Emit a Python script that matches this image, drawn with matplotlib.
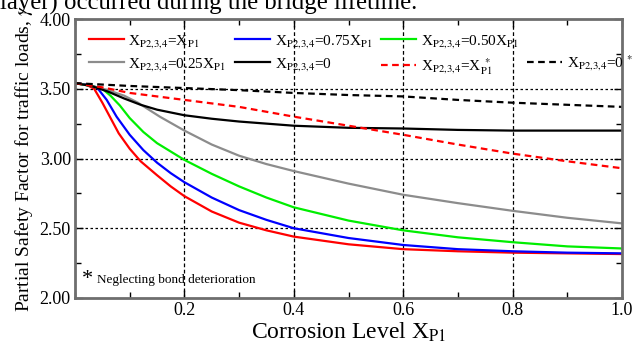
import matplotlib
matplotlib.use("Agg")
import matplotlib.pyplot as plt
from matplotlib.lines import Line2D
from matplotlib.ticker import MultipleLocator, FormatStrFormatter

plt.rcParams["font.family"] = ["Liberation Serif", "DejaVu Serif"]
plt.rcParams["mathtext.fontset"] = "stix"

# corrosion level X_P1 and partial safety factor per series
x_red = [0.0, 0.02, 0.035, 0.05, 0.065, 0.08, 0.1, 0.12, 0.15, 0.175, 0.2, 0.25, 0.3, 0.35, 0.4, 0.5, 0.6, 0.7, 0.8, 0.9, 1.0]
y_red = [3.54, 3.53, 3.50, 3.40, 3.29, 3.18, 3.07, 2.98, 2.88, 2.80, 2.73, 2.62, 2.54, 2.485, 2.44, 2.385, 2.35, 2.335, 2.325, 2.32, 2.315]

x_blue = [0.0, 0.02, 0.04, 0.058, 0.076, 0.1, 0.125, 0.15, 0.175, 0.2, 0.25, 0.3, 0.35, 0.4, 0.5, 0.6, 0.7, 0.8, 0.9, 1.0]
y_blue = [3.54, 3.53, 3.51, 3.42, 3.30, 3.17, 3.06, 2.97, 2.895, 2.83, 2.72, 2.63, 2.56, 2.50, 2.43, 2.38, 2.35, 2.335, 2.325, 2.32]

x_green = [0.0, 0.03, 0.05, 0.065, 0.082, 0.1, 0.125, 0.15, 0.175, 0.2, 0.25, 0.3, 0.35, 0.4, 0.5, 0.6, 0.7, 0.8, 0.9, 1.0]
y_green = [3.54, 3.52, 3.50, 3.45, 3.38, 3.29, 3.19, 3.11, 3.05, 2.99, 2.89, 2.80, 2.72, 2.65, 2.555, 2.485, 2.435, 2.40, 2.37, 2.355]

x_gray = [0.0, 0.03, 0.06, 0.09, 0.115, 0.155, 0.2, 0.25, 0.3, 0.35, 0.4, 0.5, 0.6, 0.7, 0.8, 0.9, 1.0]
y_gray = [3.54, 3.52, 3.49, 3.45, 3.40, 3.30, 3.20, 3.10, 3.02, 2.96, 2.91, 2.82, 2.74, 2.68, 2.625, 2.575, 2.535]

x_black = [0.0, 0.03, 0.06, 0.09, 0.12, 0.15, 0.2, 0.25, 0.3, 0.4, 0.5, 0.6, 0.7, 0.8, 0.9, 1.0]
y_black = [3.54, 3.52, 3.48, 3.43, 3.385, 3.35, 3.31, 3.285, 3.265, 3.235, 3.22, 3.215, 3.205, 3.20, 3.20, 3.20]

x_red_nb = [0.0, 0.05, 0.1, 0.2, 0.3, 0.4, 0.5, 0.6, 0.7, 0.8, 0.9, 1.0]
y_red_nb = [3.54, 3.51, 3.47, 3.42, 3.37, 3.30, 3.235, 3.17, 3.10, 3.035, 2.98, 2.93]

x_black_nb = [0.0, 0.1, 0.2, 0.3, 0.4, 0.5, 0.6, 0.7, 0.8, 0.9, 1.0]
y_black_nb = [3.54, 3.52, 3.505, 3.49, 3.47, 3.455, 3.445, 3.42, 3.40, 3.385, 3.37]

sub = r"_{\mathrm{P2{,}3{,}4}}"
labels = [
    r"X$%s$=X$_{\mathrm{P1}}$" % sub,
    r"X$%s$=0.75X$_{\mathrm{P1}}$" % sub,
    r"X$%s$=0.50X$_{\mathrm{P1}}$" % sub,
    r"X$%s$=0.25X$_{\mathrm{P1}}$" % sub,
    r"X$%s$=0" % sub,
    r"X$%s$=X$_{\mathrm{P1}}^{\ *}$" % sub,
    r"X$%s$=0$^{\ *}$" % sub,
]

fig = plt.figure(figsize=(6.33, 3.45), dpi=100)
ax = fig.add_axes([75 / 633, 1 - 298 / 345, 547 / 633, 279 / 345])

# clipped line of body text above the chart
fig.text(0.0, 1 - 10 / 345, "layer) occurred during the bridge lifetime.",
         fontsize=17.8, va="baseline", ha="left")

lw = 1.6
h_red, = ax.plot(x_red, y_red, color="#ff0000", lw=lw)
h_blue, = ax.plot(x_blue, y_blue, color="#0000ff", lw=lw)
h_green, = ax.plot(x_green, y_green, color="#00ee00", lw=lw)
h_gray, = ax.plot(x_gray, y_gray, color="#8c8c8c", lw=lw)
h_black, = ax.plot(x_black, y_black, color="black", lw=lw)
h_rnb, = ax.plot(x_red_nb, y_red_nb, color="#ff0000", lw=lw, ls=(0, (3, 2)))
h_bnb, = ax.plot(x_black_nb, y_black_nb, color="black", lw=lw, ls=(0, (3, 2)))

ax.set_xlim(0, 1.0)
ax.set_ylim(2.0, 4.0)
ax.xaxis.set_minor_locator(MultipleLocator(0.1))
ax.yaxis.set_major_locator(MultipleLocator(0.5))
ax.yaxis.set_minor_locator(MultipleLocator(0.25))
ax.xaxis.set_major_formatter(FormatStrFormatter("%.1f"))
ax.yaxis.set_major_formatter(FormatStrFormatter("%.2f"))
ax.set_xticks([0.2, 0.4, 0.6, 0.8, 1.0])
ax.tick_params(which="both", direction="in", top=True, right=True, labelsize=13,
               color="black", width=1)
ax.tick_params(which="major", length=6, pad=3)
ax.tick_params(which="minor", length=4)
for s in ax.spines.values():
    s.set_color("#6e6e6e")
    s.set_linewidth(2)

for gx in [0.2, 0.4, 0.6, 0.8]:
    ax.axvline(gx, color="black", lw=0.9, ls=(0, (3, 2)), zorder=0)
for gy in [2.5, 3.0, 3.5]:
    ax.axhline(gy, color="black", lw=0.9, ls=(0, (2, 2)), zorder=0)

ax.set_xlabel(r"Corrosion Level X$_{\mathrm{P1}}$", fontsize=17, labelpad=1)
ax.set_ylabel(r"Partial Safety Factor for traffic loads, $\gamma$", fontsize=14, labelpad=3)

blank = Line2D([], [], color="none")
handles = [h_red, h_gray, h_blue, h_black, h_green, h_rnb, blank, h_bnb]
hl = [labels[0], labels[3], labels[1], labels[4], labels[2], labels[5], "", labels[6]]
ax.legend(handles, hl, ncol=4, loc="upper left", bbox_to_anchor=(0.0, 1.0),
          frameon=False, fontsize=11, handlelength=2.3, handletextpad=0.3,
          columnspacing=0.55, labelspacing=0.4, borderaxespad=0.5, borderpad=0.4)

ax.text(0.012, 2.1, "*", fontsize=16, va="baseline")
ax.text(0.04, 2.11, "Neglecting bond deterioration", fontsize=9.5, va="baseline")

fig.savefig("out.png", dpi=100)
